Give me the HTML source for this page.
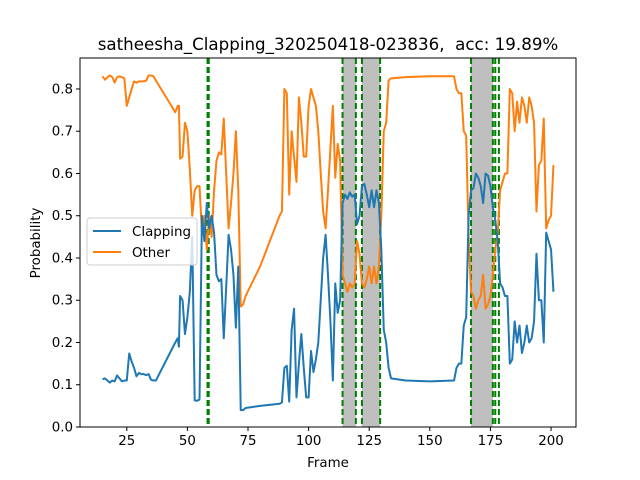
<!DOCTYPE html>
<html><head><meta charset="utf-8"><style>
body{margin:0;background:#fff;}
svg{display:block;font-family:"DejaVu Sans","Liberation Sans",sans-serif;}
</style></head><body>
<svg id="chart" width="640" height="480" viewBox="0 0 640 480" xmlns="http://www.w3.org/2000/svg">
<rect width="640" height="480" fill="#fff"/>
<g id="spans"></g>
<g id="vlines"></g>
<g id="series"></g>
<g id="axes"></g>
<text x="328" y="50" text-anchor="middle" font-size="16.7">satheesha_Clapping_320250418-023836,&#160; acc: 19.89%</text>
<text x="328" y="467" text-anchor="middle" font-size="13.4">Frame</text>
<text transform="translate(40,243) rotate(-90)" text-anchor="middle" font-size="13.4">Probability</text>
<g id="legend">
<rect x="87" y="218" width="110" height="47" rx="3" fill="#fff" fill-opacity="0.8" stroke="#ccc"/>
<line x1="93" y1="231" x2="121" y2="231" stroke="#1f77b4" stroke-width="2"/>
<text x="132" y="236" font-size="13.4">Clapping</text>
<line x1="93" y1="252" x2="121" y2="252" stroke="#ff7f0e" stroke-width="2"/>
<text x="132" y="257" font-size="13.4">Other</text>
</g>
</svg>
<script>
const frames=[15,16,17,18,19,20,21,22,23,24,25,26,27,28,29,30,31,32,33,34,35,36,37,45,46,46.5,47,48,49,50,51,52,53,54,55,56,57,58,59,60,61,62,63,64,65,66,67,68,69,70,71,72,73,74,80,88,89,90,91,92,93,94,95,96,97,98,99,100,101,102,103,104,105,106,107,108,109,110,111,112,113,114,115,116,117,118,119,120,121,122,123,124,125,126,127,128,129,130,131,132,133,134,140,150,160,161,162,163,164,165,166,167,168,169,170,171,172,173,174,175,176,177,178,179,180,181,182,183,184,185,186,187,188,189,190,191,192,193,194,195,196,197,198,199,200,201];
const clapping=[0.113,0.115,0.11,0.105,0.11,0.108,0.122,0.115,0.108,0.11,0.11,0.174,0.155,0.14,0.12,0.128,0.125,0.125,0.123,0.125,0.112,0.11,0.11,0.2,0.21,0.19,0.31,0.3,0.22,0.26,0.32,0.45,0.063,0.062,0.065,0.5,0.44,0.53,0.47,0.5,0.46,0.36,0.345,0.35,0.21,0.33,0.455,0.42,0.36,0.235,0.38,0.04,0.04,0.045,0.05,0.055,0.058,0.14,0.145,0.06,0.23,0.28,0.07,0.15,0.22,0.14,0.07,0.07,0.18,0.13,0.16,0.2,0.3,0.4,0.455,0.36,0.25,0.11,0.34,0.27,0.3,0.53,0.55,0.54,0.555,0.545,0.55,0.48,0.5,0.57,0.575,0.55,0.52,0.56,0.52,0.56,0.53,0.42,0.23,0.2,0.14,0.115,0.11,0.108,0.11,0.14,0.15,0.15,0.24,0.26,0.5,0.56,0.565,0.6,0.59,0.57,0.53,0.6,0.595,0.57,0.52,0.49,0.44,0.34,0.33,0.31,0.31,0.15,0.16,0.25,0.2,0.24,0.175,0.2,0.24,0.2,0.21,0.25,0.41,0.3,0.3,0.2,0.46,0.44,0.42,0.32];
const other=[0.83,0.822,0.828,0.832,0.828,0.815,0.828,0.83,0.828,0.825,0.76,0.78,0.8,0.818,0.815,0.818,0.818,0.818,0.82,0.832,0.832,0.83,0.82,0.745,0.76,0.76,0.635,0.64,0.72,0.7,0.61,0.5,0.56,0.57,0.57,0.46,0.5,0.42,0.5,0.45,0.56,0.63,0.65,0.645,0.73,0.6,0.47,0.53,0.6,0.7,0.56,0.285,0.29,0.31,0.38,0.5,0.51,0.8,0.79,0.55,0.7,0.64,0.58,0.78,0.72,0.64,0.64,0.76,0.8,0.78,0.76,0.7,0.6,0.51,0.47,0.56,0.66,0.76,0.59,0.67,0.63,0.36,0.34,0.32,0.34,0.33,0.34,0.44,0.41,0.34,0.33,0.35,0.38,0.34,0.38,0.34,0.38,0.5,0.7,0.72,0.82,0.825,0.828,0.83,0.83,0.8,0.79,0.79,0.7,0.69,0.45,0.32,0.31,0.28,0.3,0.31,0.36,0.28,0.29,0.31,0.36,0.42,0.46,0.56,0.58,0.6,0.6,0.8,0.79,0.7,0.77,0.72,0.78,0.76,0.72,0.78,0.76,0.72,0.51,0.62,0.63,0.73,0.47,0.49,0.5,0.62];
const spanStarts=[114,122,167];
const spanEnds=[119.5,129.5,176];
const markerFrames=[58.3,58.8,114,119.5,122,129.5,167,176,177,178.5];
const xTicks=[25,50,75,100,125,150,175,200];
const yTicks=[0,0.1,0.2,0.3,0.4,0.5,0.6,0.7,0.8];

const L=80,R=576,T=58,B=427;
const xMin=5.7,xMax=210.3,yMin=0,yMax=0.8733;
const sx=v=>L+(v-xMin)/(xMax-xMin)*(R-L);
const sy=v=>B-(v-yMin)/(yMax-yMin)*(B-T);
const NS='http://www.w3.org/2000/svg';
function mk(tag,attrs,parent){const e=document.createElementNS(NS,tag);for(const k in attrs)e.setAttribute(k,attrs[k]);parent.appendChild(e);return e;}

const spans=document.getElementById('spans');
spanStarts.forEach((s,i)=>{
  const r=mk('rect',{x:sx(s),y:T,width:sx(spanEnds[i])-sx(s),height:B-T,fill:'#bfbfbf'},spans);
  
  
});
const vl=document.getElementById('vlines');
markerFrames.forEach(f=>{
  const l=mk('line',{x1:sx(f),x2:sx(f),y1:T,y2:B,stroke:'#008000','stroke-width':2,'stroke-dasharray':'6,3'},vl);
  
  
});
const ser=document.getElementById('series');
function line(vals,color,name){
  const d=frames.map((f,i)=>(i?'L':'M')+sx(f).toFixed(2)+','+sy(vals[i]).toFixed(2)).join(' ');
  const p=mk('path',{d:d,fill:'none',stroke:color,'stroke-width':2,'stroke-linejoin':'round'},ser);
  
  
}
line(other,'#ff7f0e','other-line');
line(clapping,'#1f77b4','clapping-line');

const ax=document.getElementById('axes');
const frame=mk('rect',{x:L,y:T,width:R-L,height:B-T,fill:'none',stroke:'#000','stroke-width':1},ax);


xTicks.forEach(t=>{
  const x=sx(t);
  mk('line',{x1:x,x2:x,y1:B,y2:B+4,stroke:'#000'},ax);
  const tx=mk('text',{x:x,y:B+18,'text-anchor':'middle','font-size':13.4},ax);
  tx.textContent=t;
  
  
});
yTicks.forEach(t=>{
  const y=sy(t);
  mk('line',{x1:L-4,x2:L,y1:y,y2:y,stroke:'#000'},ax);
  const tx=mk('text',{x:L-7,y:y+4.5,'text-anchor':'end','font-size':13.4},ax);
  tx.textContent=t.toFixed(1);
  
  
});
</script>
</body></html>
